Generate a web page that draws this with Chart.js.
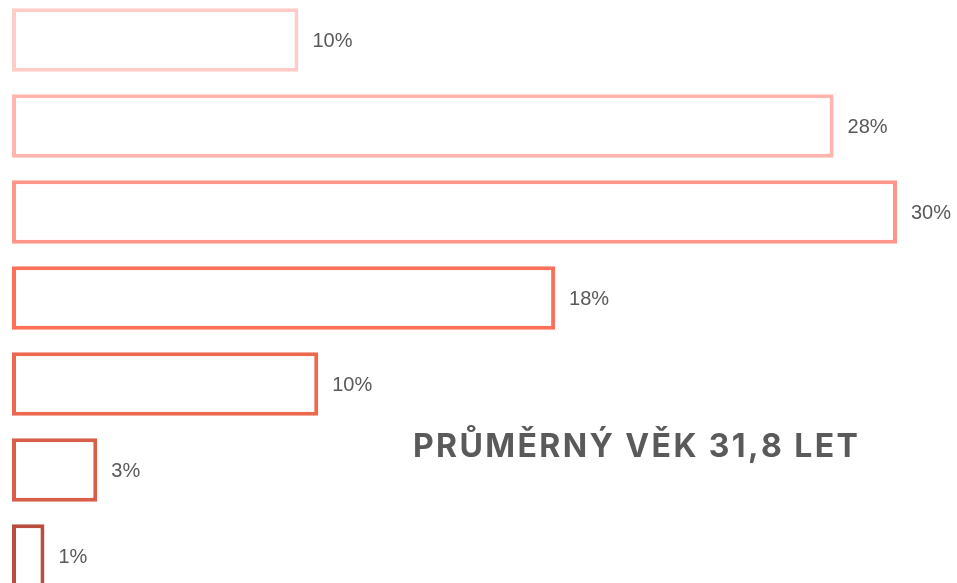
<!DOCTYPE html>
<html>
<head>
<meta charset="utf-8">
<script src="https://cdn.jsdelivr.net/npm/chart.js@4/dist/chart.umd.min.js"></script>
<style>
  html, body { margin: 0; padding: 0; background: #ffffff; overflow: hidden; }
  body { width: 957px; height: 583px; position: relative; }
  #wrap { position: absolute; left: 0; top: -3px; width: 957px; height: 602px; }
</style>
</head>
<body>
<div id="wrap"><canvas id="c" width="957" height="602"></canvas></div>
<script>
// Categories (not shown in the picture) and values
const categories = ["1", "2", "3", "4", "5", "6", "7"];
const values = [9.71, 27.85, 30, 18.41, 10.38, 2.89, 1.10];
const valueLabels = ["10%", "28%", "30%", "18%", "10%", "3%", "1%"];
const barColors = ["#FFCCC7", "#FFB5AD", "#FF968A", "#FF7059", "#EE684F", "#D85E48", "#B94D40"];
const titleText = "PRŮMĚRNÝ VĚK 31,8 LET";

const labelPlugin = {
  id: 'valueLabels',
  afterDatasetsDraw(chart) {
    const ctx = chart.ctx;
    const meta = chart.getDatasetMeta(0);
    ctx.save();
    ctx.font = '20px "Liberation Sans", Arial, sans-serif';
    ctx.fillStyle = '#595959';
    ctx.textBaseline = 'middle';
    ctx.textAlign = 'left';
    meta.data.forEach((bar, i) => {
      ctx.fillText(valueLabels[i], bar.x + 14, bar.y + 1.5);
    });
    ctx.restore();
  }
};

const titlePlugin = {
  id: 'avgTitle',
  afterDraw(chart) {
    const ctx = chart.ctx;
    ctx.save();
    ctx.font = '700 32px Inter, "Liberation Sans", Arial, sans-serif';
    ctx.fillStyle = '#5a5a5a';
    ctx.textBaseline = 'alphabetic';
    ctx.textAlign = 'left';
    const targetW = 444;
    const plainW = ctx.measureText(titleText).width;
    const n = titleText.length;
    const sp = (targetW - plainW) / (n - 1);
    let x = 413;
    const y = 459.5;
    for (const ch of titleText) {
      ctx.fillText(ch, x, y);
      x += ctx.measureText(ch).width + sp;
    }
    ctx.restore();
  }
};

new Chart(document.getElementById('c'), {
  type: 'bar',
  data: {
    labels: categories,
    datasets: [{
      data: values,
      backgroundColor: '#ffffff',
      borderColor: barColors,
      borderWidth: 4,
      borderSkipped: false,
      barPercentage: 0.9,
      categoryPercentage: 0.82
    }]
  },
  options: {
    indexAxis: 'y',
    responsive: false,
    animation: false,
    layout: { padding: { left: 12, right: 1, top: 0, bottom: 0 } },
    plugins: { legend: { display: false }, tooltip: { enabled: false } },
    scales: {
      x: { display: false, min: 0, max: 32 },
      y: { display: false }
    }
  },
  plugins: [labelPlugin, titlePlugin]
});
</script>
</body>
</html>
